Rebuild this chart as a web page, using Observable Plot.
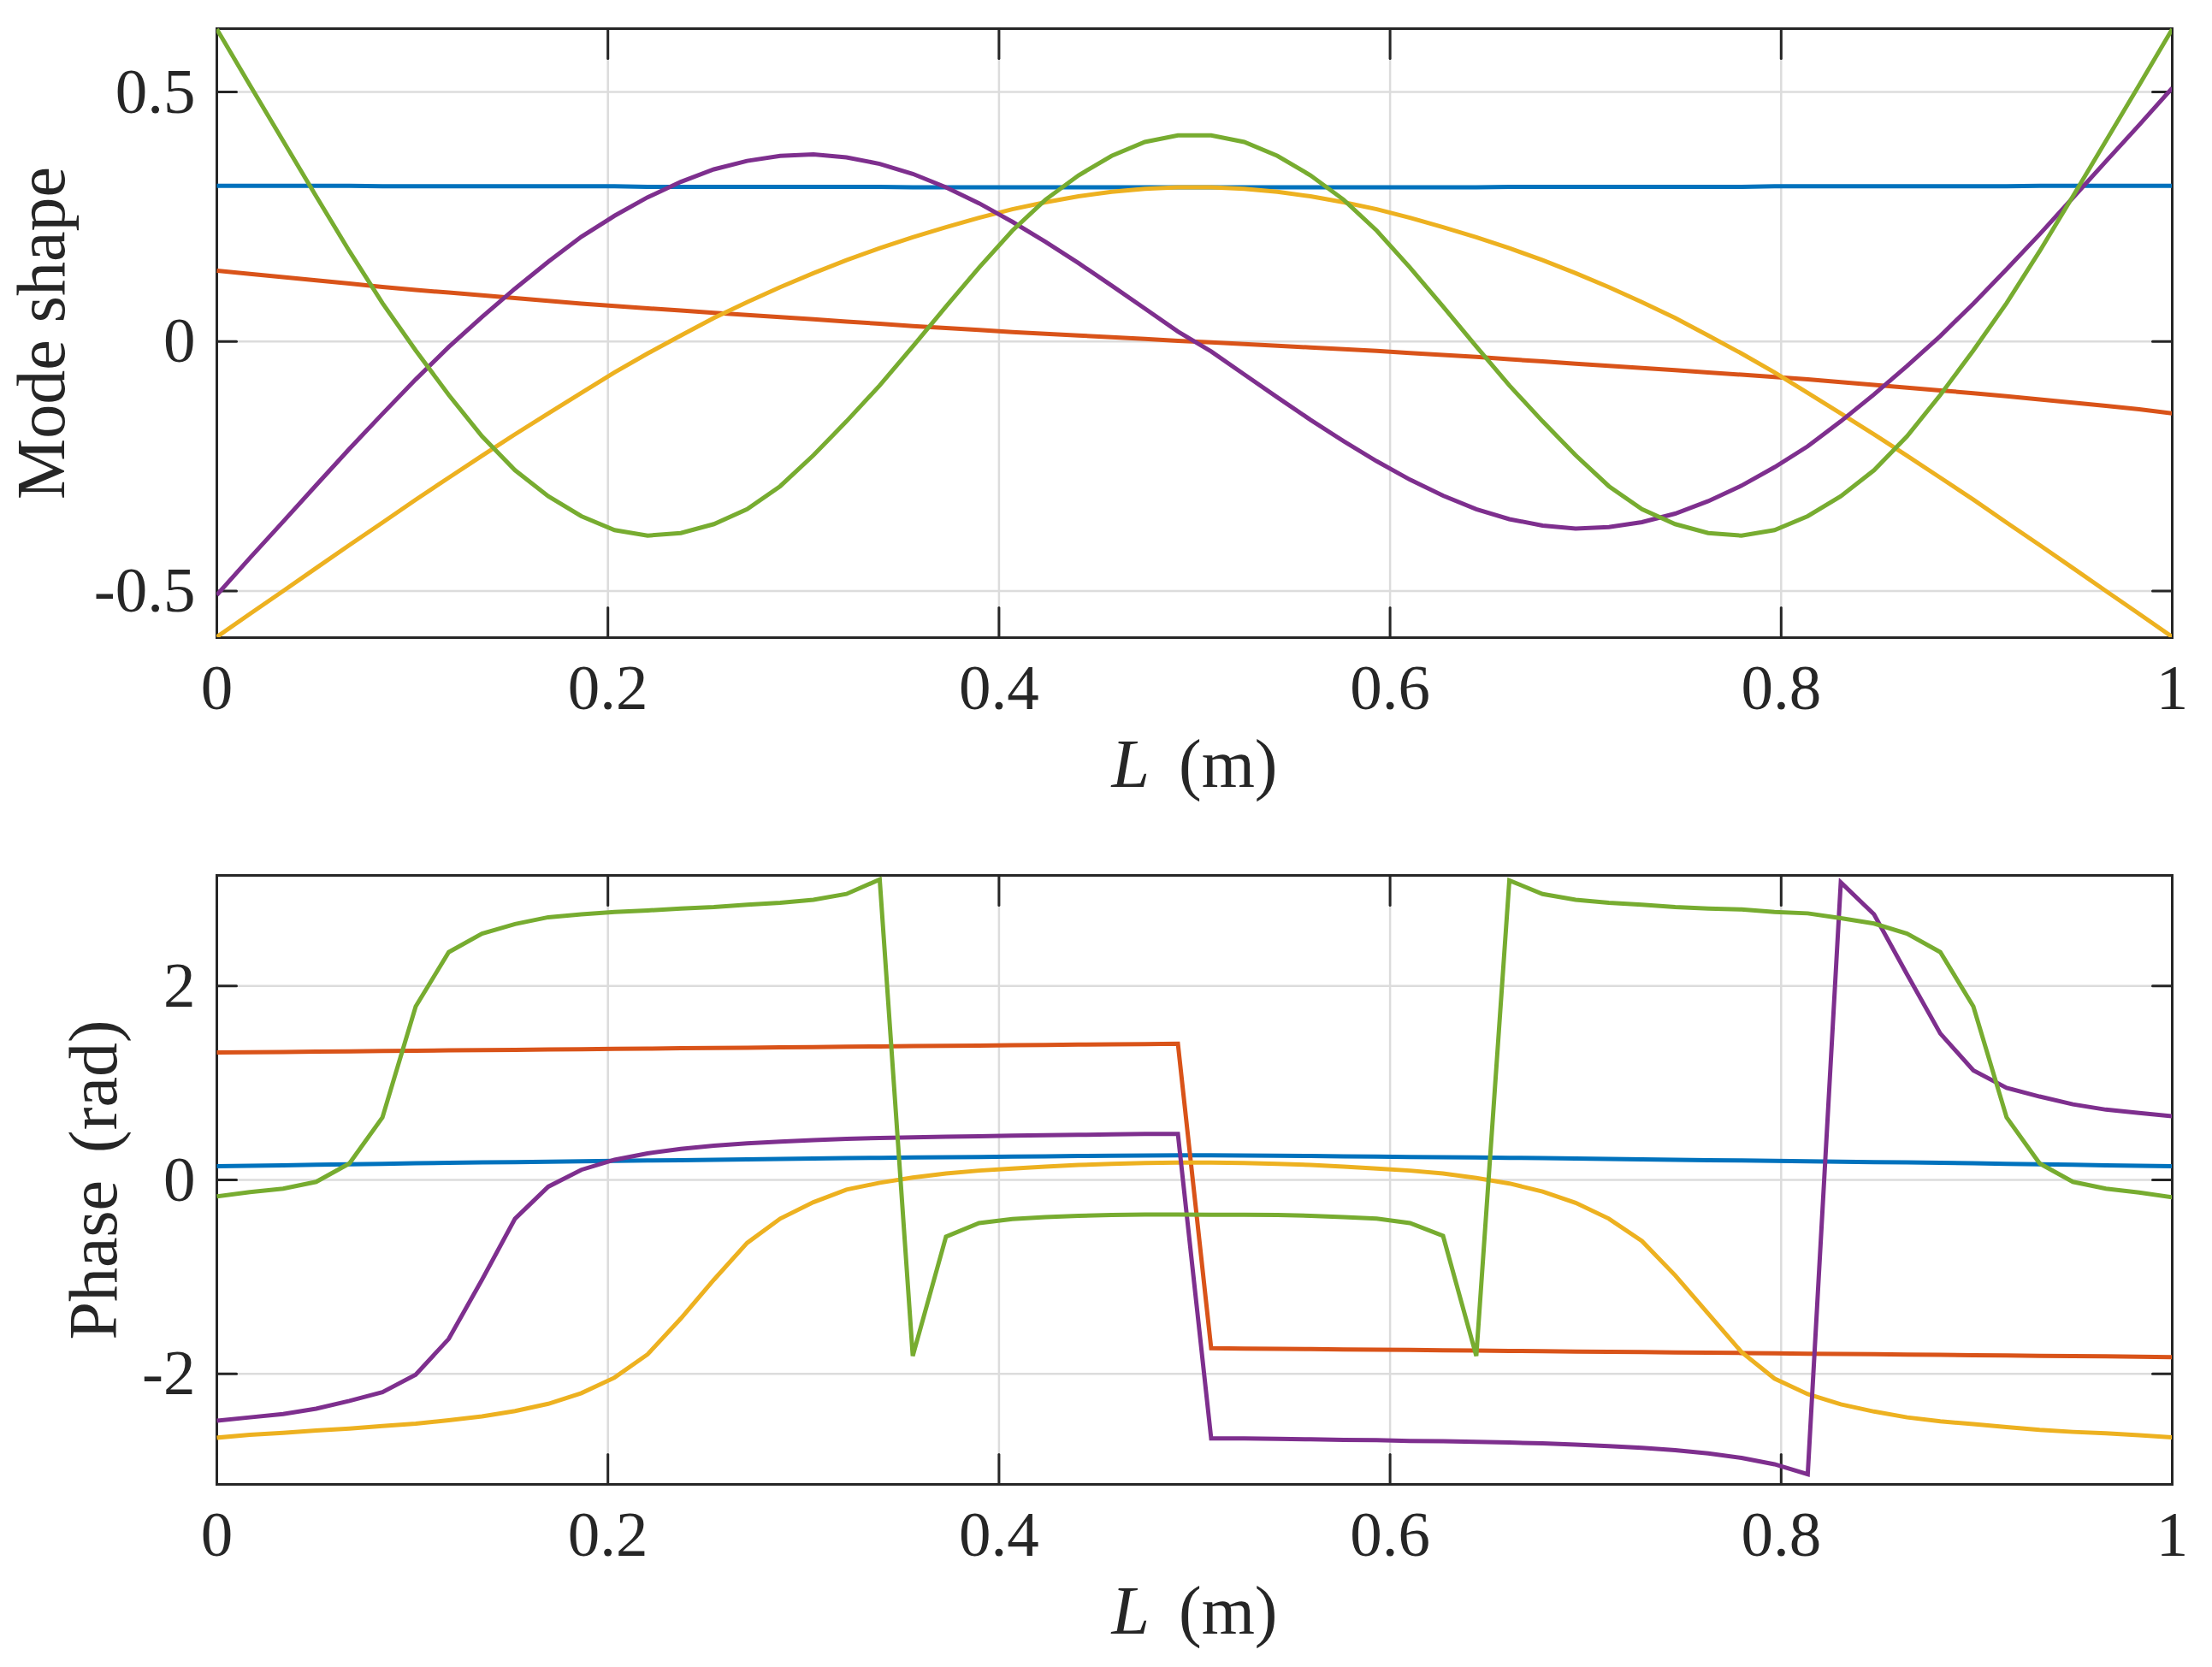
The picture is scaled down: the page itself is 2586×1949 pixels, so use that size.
<!DOCTYPE html>
<html>
<head>
<meta charset="utf-8">
<script src="https://cdn.jsdelivr.net/npm/d3@7"></script>
<script src="https://cdn.jsdelivr.net/npm/@observablehq/plot@0.6"></script>
<style>
  html, body { margin: 0; padding: 0; background: #ffffff; }
  #chart { width: 2586px; height: 1949px; position: relative; background: #ffffff; }
  #chart svg { display: block; }
</style>
</head>
<body>
<div id="chart"></div>
<script>
// ---------------- data ----------------
const L = [0, 0.0169, 0.0339, 0.0508, 0.0678, 0.0847, 0.1017, 0.1186, 0.1356, 0.1525,
  0.1695, 0.1864, 0.2034, 0.2203, 0.2373, 0.2542, 0.2712, 0.2881, 0.3051, 0.3220,
  0.3390, 0.3559, 0.3729, 0.3898, 0.4068, 0.4237, 0.4407, 0.4576, 0.4746, 0.4915,
  0.5085, 0.5254, 0.5424, 0.5593, 0.5763, 0.5932, 0.6102, 0.6271, 0.6441, 0.6610,
  0.6780, 0.6949, 0.7119, 0.7288, 0.7458, 0.7627, 0.7797, 0.7966, 0.8136, 0.8305,
  0.8475, 0.8644, 0.8814, 0.8983, 0.9153, 0.9322, 0.9492, 0.9661, 0.9831, 1];

const xTicks = [0, 0.2, 0.4, 0.6, 0.8, 1];
const xTickLabels = ["0", "0.2", "0.4", "0.6", "0.8", "1"];
const shapeTicks = [-0.5, 0, 0.5];
const shapeTickLabels = ["-0.5", "0", "0.5"];
const phaseTicks = [-2, 0, 2];
const phaseTickLabels = ["-2", "0", "2"];

// Mode shape (top panel)
const shapeBlue = [0.312, 0.312, 0.312, 0.312, 0.312, 0.311, 0.311, 0.311, 0.311, 0.311,
  0.311, 0.311, 0.311, 0.310, 0.310, 0.310, 0.310, 0.310, 0.310, 0.310,
  0.310, 0.309, 0.309, 0.309, 0.309, 0.309, 0.309, 0.309, 0.309, 0.309,
  0.309, 0.309, 0.309, 0.309, 0.309, 0.309, 0.309, 0.309, 0.309, 0.310,
  0.310, 0.310, 0.310, 0.310, 0.310, 0.310, 0.310, 0.311, 0.311, 0.311,
  0.311, 0.311, 0.311, 0.311, 0.311, 0.312, 0.312, 0.312, 0.312, 0.312];
const shapeOrange = [0.142, 0.1355, 0.129, 0.1225, 0.116, 0.1095, 0.1035, 0.098, 0.0925, 0.087,
  0.0815, 0.076, 0.071, 0.0665, 0.062, 0.0575, 0.053, 0.049, 0.0445, 0.040,
  0.0355, 0.031, 0.027, 0.023, 0.019, 0.0155, 0.012, 0.0085, 0.005, 0.0015,
  -0.0015, -0.005, -0.0085, -0.012, -0.0155, -0.019, -0.023, -0.027, -0.031, -0.0355,
  -0.040, -0.0445, -0.049, -0.053, -0.0575, -0.062, -0.0665, -0.071, -0.076, -0.0815,
  -0.087, -0.0925, -0.098, -0.1035, -0.1095, -0.116, -0.1225, -0.129, -0.136, -0.144];
const shapeYellow = [-0.592, -0.546, -0.500, -0.454, -0.408, -0.363, -0.317, -0.273, -0.229, -0.186,
  -0.144, -0.103, -0.062, -0.024, 0.012, 0.047, 0.079, 0.109, 0.137, 0.163,
  0.187, 0.209, 0.229, 0.248, 0.265, 0.279, 0.291, 0.300, 0.306, 0.309,
  0.309, 0.306, 0.300, 0.291, 0.279, 0.265, 0.248, 0.229, 0.209, 0.187,
  0.163, 0.137, 0.109, 0.079, 0.047, 0.012, -0.024, -0.062, -0.103, -0.144,
  -0.186, -0.229, -0.273, -0.317, -0.363, -0.408, -0.454, -0.500, -0.546, -0.592];
const shapePurple = [-0.508, -0.434, -0.361, -0.288, -0.215, -0.145, -0.076, -0.011, 0.049, 0.106,
  0.160, 0.210, 0.252, 0.289, 0.320, 0.345, 0.362, 0.372, 0.375, 0.369,
  0.356, 0.336, 0.309, 0.277, 0.240, 0.200, 0.157, 0.112, 0.066, 0.020,
  -0.020, -0.066, -0.112, -0.157, -0.200, -0.240, -0.277, -0.309, -0.336, -0.356,
  -0.369, -0.375, -0.372, -0.362, -0.345, -0.320, -0.289, -0.252, -0.210, -0.160,
  -0.106, -0.049, 0.011, 0.076, 0.145, 0.215, 0.288, 0.361, 0.434, 0.508];
const shapeGreen = [0.626, 0.514, 0.402, 0.291, 0.181, 0.077, -0.018, -0.107, -0.190, -0.258,
  -0.310, -0.350, -0.378, -0.389, -0.384, -0.366, -0.336, -0.290, -0.228, -0.160,
  -0.088, -0.010, 0.070, 0.148, 0.222, 0.284, 0.333, 0.372, 0.400, 0.413,
  0.413, 0.400, 0.372, 0.333, 0.284, 0.222, 0.148, 0.070, -0.010, -0.088,
  -0.160, -0.228, -0.290, -0.336, -0.366, -0.384, -0.389, -0.378, -0.350, -0.310,
  -0.258, -0.190, -0.107, -0.018, 0.077, 0.181, 0.291, 0.402, 0.514, 0.626];

// Phase (bottom panel)
const phaseBlue = [0.141, 0.146, 0.151, 0.156, 0.161, 0.166, 0.171, 0.176, 0.180, 0.184,
  0.188, 0.192, 0.196, 0.200, 0.204, 0.208, 0.212, 0.216, 0.220, 0.224,
  0.228, 0.231, 0.234, 0.237, 0.240, 0.243, 0.246, 0.249, 0.251, 0.253,
  0.253, 0.251, 0.249, 0.246, 0.243, 0.240, 0.237, 0.234, 0.231, 0.228,
  0.224, 0.220, 0.216, 0.212, 0.208, 0.204, 0.200, 0.196, 0.192, 0.188,
  0.184, 0.180, 0.176, 0.171, 0.166, 0.161, 0.156, 0.151, 0.146, 0.141];
const phaseOrange = [1.314, 1.317, 1.320, 1.323, 1.327, 1.330, 1.333, 1.336, 1.339, 1.342,
  1.345, 1.349, 1.352, 1.355, 1.358, 1.361, 1.364, 1.367, 1.371, 1.374,
  1.377, 1.380, 1.383, 1.386, 1.389, 1.392, 1.396, 1.399, 1.402, 1.405,
  -1.737, -1.740, -1.743, -1.746, -1.749, -1.752, -1.755, -1.758, -1.761, -1.764,
  -1.767, -1.771, -1.774, -1.777, -1.780, -1.783, -1.786, -1.789, -1.793, -1.796,
  -1.799, -1.802, -1.805, -1.808, -1.812, -1.815, -1.818, -1.821, -1.824, -1.828];
const phaseYellow = [-2.660, -2.630, -2.610, -2.585, -2.565, -2.540, -2.515, -2.480, -2.440, -2.385,
  -2.310, -2.200, -2.040, -1.800, -1.430, -1.030, -0.650, -0.400, -0.230, -0.100,
  -0.030, 0.025, 0.067, 0.096, 0.116, 0.137, 0.154, 0.166, 0.175, 0.179,
  0.179, 0.175, 0.166, 0.154, 0.137, 0.116, 0.096, 0.067, 0.020, -0.037,
  -0.120, -0.237, -0.400, -0.630, -0.985, -1.380, -1.775, -2.050, -2.210, -2.316,
  -2.390, -2.450, -2.490, -2.520, -2.550, -2.580, -2.600, -2.615, -2.635, -2.657];
const phasePurple = [-2.484, -2.450, -2.415, -2.360, -2.280, -2.190, -2.010, -1.640, -1.030, -0.400,
  -0.070, 0.104, 0.208, 0.274, 0.320, 0.353, 0.378, 0.395, 0.410, 0.424,
  0.432, 0.440, 0.445, 0.449, 0.457, 0.460, 0.465, 0.470, 0.474, 0.474,
  -2.668, -2.668, -2.672, -2.677, -2.682, -2.685, -2.693, -2.697, -2.702, -2.710,
  -2.718, -2.732, -2.747, -2.764, -2.789, -2.822, -2.868, -2.934, -3.038, 3.070,
  2.740, 2.120, 1.510, 1.130, 0.950, 0.860, 0.780, 0.725, 0.690, 0.657];
const phaseGreen = [-0.170, -0.125, -0.090, -0.020, 0.170, 0.645, 1.790, 2.350, 2.540, 2.640,
  2.710, 2.740, 2.765, 2.780, 2.800, 2.815, 2.840, 2.860, 2.890, 2.950,
  3.100, -1.817, -0.586, -0.445, -0.403, -0.383, -0.370, -0.362, -0.358, -0.358,
  -0.360, -0.360, -0.362, -0.370, -0.383, -0.400, -0.445, -0.578, -1.817, 3.090,
  2.950, 2.890, 2.860, 2.840, 2.815, 2.800, 2.790, 2.765, 2.750, 2.700,
  2.645, 2.540, 2.350, 1.790, 0.645, 0.170, -0.020, -0.090, -0.130, -0.180];

const seriesColors = ["#0072BD", "#D95319", "#EDB120", "#7E2F8E", "#77AC30"];
const shapeSeries = [shapeBlue, shapeOrange, shapeYellow, shapePurple, shapeGreen];
const phaseSeries = [phaseBlue, phaseOrange, phaseYellow, phasePurple, phaseGreen];

// ---------------- drawing ----------------
const INK = "#262626";
const FONT = "'Liberation Serif', 'DejaVu Serif', serif";
const TICK_FONT = 75;
const LABEL_FONT = 80;
const W = 2586;
const ML = 253, MR = 47;

const tickShape = {
  draw(context, l) {
    context.moveTo(0, 0);
    context.lineTo(0, -l);
  }
};

function panel({series, yDomain, yTicks, yTickLabels, yLabel, yLabelDx, height, marginTop, marginBottom}) {
  const tickOpts = {stroke: INK, strokeWidth: 3, shape: tickShape, anchor: "start"};
  const marks = [
    Plot.gridX(xTicks, {stroke: "#dcdcdc", strokeOpacity: 1, strokeWidth: 2.5}),
    Plot.gridY(yTicks, {stroke: "#dcdcdc", strokeOpacity: 1, strokeWidth: 2.5}),
    Plot.frame({stroke: INK, strokeWidth: 3}),
    // inward ticks on all four sides
    Plot.vector(xTicks, {x: d => d, frameAnchor: "bottom", length: 35, rotate: 0, ...tickOpts}),
    Plot.vector(xTicks, {x: d => d, frameAnchor: "top", length: 35, rotate: 180, ...tickOpts}),
    Plot.vector(yTicks, {y: d => d, frameAnchor: "left", length: 23, rotate: 90, ...tickOpts}),
    Plot.vector(yTicks, {y: d => d, frameAnchor: "right", length: 23, rotate: -90, ...tickOpts})
  ];
  series.forEach((vals, s) => {
    marks.push(Plot.line(L.map((x, i) => ({x, y: vals[i]})), {
      x: "x", y: "y", stroke: seriesColors[s], strokeWidth: 5,
      strokeLinejoin: "miter", strokeMiterlimit: 4, strokeLinecap: "butt", clip: true
    }));
  });
  // tick labels
  marks.push(Plot.text(xTicks, {
    x: d => d, frameAnchor: "bottom", dy: 59, lineAnchor: "middle", textAnchor: "middle",
    text: (d, i) => xTickLabels[i], fontSize: TICK_FONT, fontFamily: FONT, fill: INK
  }));
  marks.push(Plot.text(yTicks, {
    y: d => d, frameAnchor: "left", dx: -25, lineAnchor: "middle", textAnchor: "end",
    text: (d, i) => yTickLabels[i], fontSize: TICK_FONT, fontFamily: FONT, fill: INK
  }));
  // axis titles
  marks.push(Plot.text(["L (m)"], {
    frameAnchor: "bottom", dy: 149, lineAnchor: "middle", textAnchor: "middle",
    text: d => d, fontSize: LABEL_FONT, fontFamily: FONT, fill: INK
  }));
  marks.push(Plot.text([yLabel], {
    frameAnchor: "left", dx: yLabelDx, lineAnchor: "middle", textAnchor: "middle", rotate: -90,
    text: d => d, fontSize: LABEL_FONT, fontFamily: FONT, fill: INK
  }));

  const svg = Plot.plot({
    width: W,
    height,
    marginLeft: ML,
    marginRight: MR,
    marginTop,
    marginBottom,
    x: {domain: [0, 1], axis: null},
    y: {domain: yDomain, axis: null},
    style: {background: "#ffffff", fontFamily: FONT, color: INK, overflow: "visible"},
    marks
  });

  // italic L in the x-axis title
  svg.querySelectorAll("text").forEach(t => {
    if (t.textContent === "L (m)") {
      while (t.firstChild) t.removeChild(t.firstChild);
      const ns = "http://www.w3.org/2000/svg";
      const a = document.createElementNS(ns, "tspan");
      a.setAttribute("font-style", "italic");
      a.textContent = "L";
      const b = document.createElementNS(ns, "tspan");
      b.setAttribute("dx", "14");
      b.textContent = "(m)";
      t.appendChild(a);
      t.appendChild(document.createTextNode(" "));
      t.appendChild(b);
    }
    if (t.textContent === "Phase (rad)") {
      t.setAttribute("word-spacing", "12");
    }
  });
  return svg;
}

const chart = document.getElementById("chart");
chart.appendChild(panel({
  series: shapeSeries,
  yDomain: [-0.5935, 0.627],
  yTicks: shapeTicks,
  yTickLabels: shapeTickLabels,
  yLabel: "Mode shape",
  yLabelDx: -204,
  height: 960,
  marginTop: 33,
  marginBottom: 215
}));
chart.appendChild(panel({
  series: phaseSeries,
  yDomain: [-Math.PI, Math.PI],
  yTicks: phaseTicks,
  yTickLabels: phaseTickLabels,
  yLabel: "Phase (rad)",
  yLabelDx: -143,
  height: 989,
  marginTop: 63,
  marginBottom: 214
}));
</script>
</body>
</html>
